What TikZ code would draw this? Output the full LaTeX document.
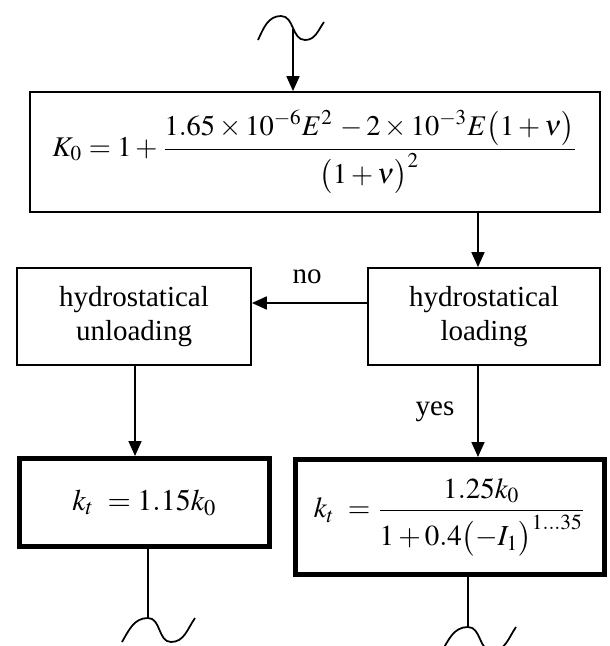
\documentclass[tikz,border=0pt]{standalone}
\usepackage{mathptmx}
\usepackage{fontspec}
\setmainfont{Liberation Serif}
\usetikzlibrary{arrows.meta}
\begin{document}
\begin{tikzpicture}[x=0.4pt,y=0.4pt,every node/.style={font=\fontsize{11.6}{13.3}\selectfont},
    box/.style={draw,line width=0.7pt,inner sep=0pt,align=center},
    resbox/.style={draw,line width=2pt,inner sep=0pt,font=\fontsize{12}{14}\selectfont},
    flow/.style={line width=0.7pt,-{Triangle[length=6pt,width=5.2pt]}},
    wave/.style={line width=0.7pt}]
                \useasboundingbox (0,0) rectangle (609,-646);

                \node[box,minimum width=228pt,minimum height=48pt,font=\fontsize{11.4}{13.5}\selectfont] (k0) at (315,-152)
                    {$\displaystyle K_0 = 1+\frac{1.65\times10^{-6}E^2\,-2\times10^{-3}E\bigl(1+\nu\bigr)}{\bigl(1+\nu\bigr)^2}$};
                \node[box,minimum width=93.6pt,minimum height=38.8pt] (unload) at (134,-316.5) {hydrostatical\\unloading};
                \node[box,minimum width=92.8pt,minimum height=38.8pt] (load) at (484,-316.5) {hydrostatical\\loading};
                \node[resbox,minimum width=100pt,minimum height=35.2pt] (kt1) at (144.5,-502.5) {$k_t\;= 1.15k_0$};
                \node[resbox,minimum width=123.6pt,minimum height=46pt,font=\fontsize{11.6}{14}\selectfont] (kt2) at (450,-517)
                    {$\displaystyle k_t\;= \frac{1.25k_0}{1+0.4\bigl(-I_1\bigr)^{1\ldots35}}$};

                \node (no) at (307,-277) {no};
                \node (yes) at (435,-412) {yes};

                \coordinate (topin) at (293,-29);
                \coordinate (rx) at (478,0);
                \coordinate (lx) at (135,0);
                \coordinate (ny) at (0,-303);
                \coordinate (lend) at (148,-618);
                \coordinate (rend) at (468,-627);

                \draw[wave] (258,-40) to[out=65,in=180] (281,-16) to[out=0,in=180] (305,-40) to[out=0,in=235] (324,-22);
                \draw[flow] (topin) -- (topin |- k0.north);
                \draw[flow] (k0.south -| rx) -- (load.north -| rx);
                \draw[flow] (load.west |- ny) -- (unload.east |- ny);
                \draw[flow] (unload.south -| lx) -- (kt1.north -| lx);
                \draw[flow] (load.south -| rx) -- (kt2.north -| rx);

                \draw[wave] (kt1.south -| lend) -- (lend);
                \draw[wave] (122,-642) to[out=60,in=180] (lend) to[out=0,in=180] (171,-642) to[out=0,in=235] (195,-618);
                \draw[wave] (kt2.south -| rend) -- (rend);
                \draw[wave] (441,-653) to[out=60,in=180] (rend) to[out=0,in=180] (492,-651) to[out=0,in=235] (516,-627);
            \end{tikzpicture}
\end{document}
